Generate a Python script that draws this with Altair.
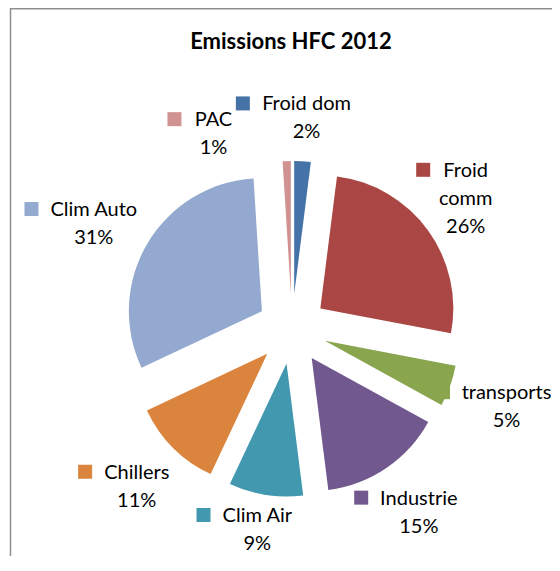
import math
import altair as alt
import pandas as pd

# ---- data -------------------------------------------------------------
categories = ["Froid dom", "Froid comm", "transports", "Industrie",
              "Clim Air", "Chillers", "Clim Auto", "PAC"]
shares = [2, 26, 5, 15, 9, 11, 31, 1]
colors = ["#4572A7", "#AA4643", "#89A54E", "#71588F",
          "#4198AF", "#DB843D", "#93A9CF", "#D19392"]
label_names = [["Froid dom"], ["Froid", "comm"], ["transports"], ["Industrie"],
               ["Clim Air"], ["Chillers"], ["Clim Auto"], ["PAC"]]
title_text = "Emissions HFC 2012"

# ---- layout / style ---------------------------------------------------
W, H = 544, 548
CX, CY = 284, 321          # pie centre
RADIUS = 133
EXPLODE = 35
LABEL_R = 188              # anchor radius of the data labels
LABEL_DY = 5               # small downward shift of all label blocks
FS = 20
LINE_H = 28
MARK = 14
GAP = 13
FONT = "Lato"

CHAR_W = {"F": .56, "r": .36, "o": .55, "i": .23, "d": .55, " ": .19, "m": .83,
          "c": .46, "t": .34, "a": .49, "n": .55, "s": .41, "p": .54, "I": .26,
          "u": .55, "e": .51, "C": .64, "l": .23, "A": .67, "h": .55, "P": .59,
          "%": .77}


def text_w(s):
    return sum(CHAR_W.get(ch, .58 if ch.isdigit() else .5) for ch in s) * FS


total = sum(shares)
slices, labels = [], []
cum = 0
for cat, v, names in zip(categories, shares, label_names):
    a0 = 2 * math.pi * cum / total
    a1 = 2 * math.pi * (cum + v) / total
    mid = (a0 + a1) / 2
    cum += v
    slices.append({"category": cat, "a0": a0, "a1": a1,
                   "ax": CX + EXPLODE * math.sin(mid),
                   "ay": CY - EXPLODE * math.cos(mid)})
    lines = names + [f"{v}%"]
    labels.append({"category": cat, "value": v, "mid": mid, "lines": lines,
                   "widths": [text_w(l) for l in lines]})


def place(lb, ang):
    ux, uy = math.sin(ang), -math.cos(ang)
    n = len(lb["lines"])
    tw = max(lb["widths"])
    h = n * LINE_H
    xc = CX + LABEL_R * ux + tw / 2 * ux
    yc = CY + LABEL_R * uy + h / 2 * uy + LABEL_DY
    # keep the label inside the chart area
    right = xc + tw / 2
    if right > W - 2:
        xc -= right - (W - 2)
    y0 = yc - h / 2 + LINE_H / 2
    ylast = y0 + (n - 1) * LINE_H
    if ylast > H - 12:
        y0 -= ylast - (H - 12)
    lb["xc"], lb["y0"] = xc, y0
    rects = []
    for k, w in enumerate(lb["widths"]):
        yk = y0 + k * LINE_H
        left = xc - w / 2 - (GAP + MARK if k == 0 else 0)
        rects.append((left, xc + w / 2, yk - 12, yk + 12))
    lb["rects"] = rects


def overlap(a, b):
    for (l1, r1, t1, b1) in a["rects"]:
        for (l2, r2, t2, b2) in b["rects"]:
            if l1 < r2 + 2 and l2 < r1 + 2 and t1 < b2 and t2 < b1:
                return True
    return False


placed = []
for lb in sorted(labels, key=lambda d: -d["value"]):
    ang = lb["mid"]
    place(lb, ang)
    for _ in range(360):
        hits = [p for p in placed if overlap(lb, p)]
        if not hits:
            break
        d = (lb["mid"] - hits[0]["mid"] + math.pi) % (2 * math.pi) - math.pi
        ang += math.radians(0.5) * (1 if d >= 0 else -1)
        place(lb, ang)
    placed.append(lb)

line_rows, mark_rows = [], []
for lb in labels:
    for k, t in enumerate(lb["lines"]):
        line_rows.append({"x": lb["xc"], "y": lb["y0"] + k * LINE_H, "text": t})
    mx = lb["xc"] - lb["widths"][0] / 2 - GAP - MARK
    mark_rows.append({"category": lb["category"], "x": mx, "x2": mx + MARK,
                      "y": lb["y0"] - 1 - MARK / 2, "y2": lb["y0"] - 1 + MARK / 2})

slice_df = pd.DataFrame(slices)
line_df = pd.DataFrame(line_rows)
mark_df = pd.DataFrame(mark_rows)

color_scale = alt.Scale(domain=categories, range=colors)

arcs = alt.Chart(slice_df).mark_arc(outerRadius=RADIUS, innerRadius=0).encode(
    theta=alt.Theta("a0:Q", scale=None, stack=None),
    theta2="a1:Q",
    x=alt.X("ax:Q", scale=None),
    y=alt.Y("ay:Q", scale=None),
    color=alt.Color("category:N", scale=color_scale, legend=None),
)

markers = alt.Chart(mark_df).mark_rect().encode(
    x=alt.X("x:Q", scale=None), x2="x2:Q",
    y=alt.Y("y:Q", scale=None), y2="y2:Q",
    color=alt.Color("category:N", scale=color_scale, legend=None),
)

texts = alt.Chart(line_df).mark_text(
    font=FONT, fontSize=FS, color="#000000", align="center", baseline="middle"
).encode(
    x=alt.X("x:Q", scale=None),
    y=alt.Y("y:Q", scale=None),
    text="text:N",
)

title = alt.Chart(pd.DataFrame({"t": [title_text]})).mark_text(
    font=FONT, fontSize=22, fontWeight="bold", color="#000000",
    align="center", baseline="middle"
).encode(x=alt.value(283), y=alt.value(34), text="t:N")

left_border = alt.Chart(pd.DataFrame({"a": [0]})).mark_rule(
    color="#8f8f8f", strokeWidth=1.5
).encode(x=alt.value(2.5), y=alt.value(0), y2=alt.value(H))

top_border = alt.Chart(pd.DataFrame({"a": [0]})).mark_rule(
    color="#8f8f8f", strokeWidth=1.5
).encode(x=alt.value(2), x2=alt.value(W), y=alt.value(0.75))

chart = alt.layer(arcs, markers, texts, title, left_border, top_border).properties(
    width=W, height=H, padding=0, autosize=alt.AutoSizeParams(type="none"),
    background="#ffffff",
).configure_view(stroke=None)

chart.save("out.html", embed_options={"renderer": "svg", "actions": False})
